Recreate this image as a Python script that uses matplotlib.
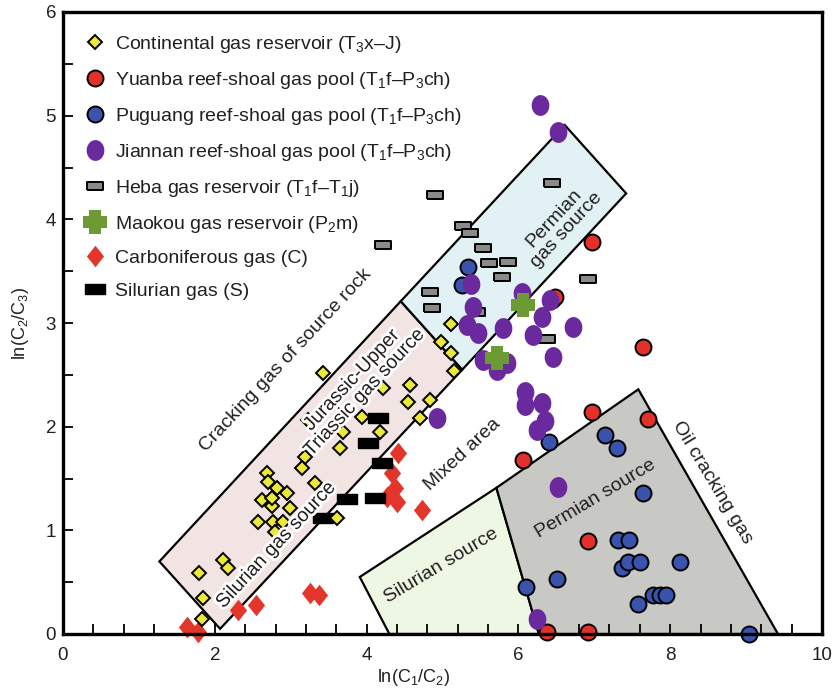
import numpy as np
import matplotlib
matplotlib.use("Agg")
import matplotlib.pyplot as plt
from matplotlib.patches import Polygon
from matplotlib.lines import Line2D
import matplotlib.patheffects as pe

plt.rcParams['font.family'] = ['Liberation Sans', 'DejaVu Sans']
plt.rcParams['mathtext.fontset'] = 'custom'
plt.rcParams['mathtext.rm'] = 'Liberation Sans'
plt.rcParams['mathtext.it'] = 'Liberation Sans:italic'
plt.rcParams['mathtext.bf'] = 'Liberation Sans:bold'

# ---------------- data ----------------
cont_x = [3.43, 4.57, 4.55, 4.84, 4.70, 3.94, 4.18, 3.65, 3.19, 3.15, 3.32, 2.69, 2.70, 2.82,
          2.95, 2.99, 2.62, 2.75, 2.57, 2.77, 2.90, 3.61, 5.11, 4.98, 5.11, 5.15, 2.11, 2.17,
          1.79, 1.85, 1.83, 2.79, 2.75, 4.22, 3.69, 3.23]
cont_y = [2.52, 2.40, 2.24, 2.26, 2.08, 2.09, 1.95, 1.79, 1.71, 1.60, 1.46, 1.55, 1.47, 1.41,
          1.36, 1.22, 1.29, 1.23, 1.08, 1.08, 1.08, 1.12, 2.99, 2.82, 2.71, 2.54, 0.71, 0.64,
          0.59, 0.35, 0.14, 0.98, 1.31, 2.37, 1.95, 2.06]

yuan_x = [6.97, 6.48, 7.64, 6.97, 7.71, 6.06, 6.92, 6.38, 6.92]
yuan_y = [3.78, 3.25, 2.77, 2.14, 2.07, 1.68, 0.90, 0.02, 0.02]

pug_x = [5.34, 5.26, 7.14, 7.30, 6.40, 7.64, 7.31, 7.46, 7.37, 7.44, 7.60, 8.13, 6.51, 6.10,
         7.58, 7.77, 7.87, 7.95, 9.04, 6.44]
pug_y = [3.54, 3.37, 1.92, 1.79, 1.85, 1.36, 0.91, 0.91, 0.64, 0.69, 0.69, 0.69, 0.53, 0.45,
         0.29, 0.38, 0.38, 0.38, 0.00, 3.22]

jian_x = [6.29, 6.52, 5.38, 5.40, 5.32, 5.47, 5.80, 6.05, 6.19, 6.31, 6.42, 6.72, 6.46, 5.53,
          5.85, 5.72, 4.93, 6.09, 6.09, 6.31, 6.35, 6.25, 6.52, 6.25]
jian_y = [5.10, 4.84, 3.38, 3.15, 2.98, 2.90, 2.95, 3.29, 2.88, 3.06, 3.22, 2.96, 2.67, 2.64,
          2.61, 2.55, 2.08, 2.33, 2.21, 2.23, 2.05, 1.97, 1.42, 0.14]

heba_x = [4.90, 4.22, 5.27, 5.36, 5.53, 5.61, 5.86, 5.78, 6.44, 6.92, 4.84, 4.86, 5.46, 6.38]
heba_y = [4.23, 3.75, 3.94, 3.87, 3.72, 3.58, 3.59, 3.44, 4.35, 3.42, 3.30, 3.14, 3.11, 2.85]

mao_x = [6.06, 5.72]
mao_y = [3.17, 2.66]

carb_x = [4.41, 4.34, 4.37, 4.27, 4.40, 4.73, 3.25, 3.37, 2.31, 2.54, 1.63, 1.78]
carb_y = [1.75, 1.55, 1.41, 1.32, 1.27, 1.20, 0.40, 0.38, 0.23, 0.28, 0.07, 0.02]

sil_x = [4.15, 4.02, 4.20, 3.74, 4.11, 3.43]
sil_y = [2.08, 1.84, 1.65, 1.30, 1.31, 1.12]

# region boundaries
pink_region = [(1.27, 0.70), (2.07, 0.05), (5.26, 2.55), (4.45, 3.21)]
blue_region = [(4.45, 3.21), (5.26, 2.55), (7.42, 4.25), (6.61, 4.91)]
green_region = [(3.91, 0.55), (5.71, 1.41), (6.27, 0.0), (4.30, 0.0)]
gray_region = [(5.71, 1.41), (7.58, 2.36), (9.42, 0.0), (6.27, 0.0)]

labels = [r"Continental gas reservoir (T$_3$x–J)",
          r"Yuanba reef-shoal gas pool (T$_1$f–P$_3$ch)",
          r"Puguang reef-shoal gas pool (T$_1$f–P$_3$ch)",
          r"Jiannan reef-shoal gas pool (T$_1$f–P$_3$ch)",
          r"Heba gas reservoir (T$_1$f–T$_1$j)",
          r"Maokou gas reservoir (P$_2$m)",
          "Carboniferous gas (C)",
          "Silurian gas (S)"]

# ---------------- marker shapes ----------------
t = np.linspace(0, 2 * np.pi, 40)
ellipse_m = list(zip(0.85 * np.cos(t), np.sin(t)))
rect_m = [(-1, -0.5), (1, -0.5), (1, 0.5), (-1, 0.5), (-1, -0.5)]
a, b = 0.27, 0.55
cross_m = [(-a, -b), (a, -b), (a, -a), (b, -a), (b, a), (a, a), (a, b), (-a, b),
           (-a, a), (-b, a), (-b, -a), (-a, -a), (-a, -b)]
diam_m = [(0, -1), (0.8, 0), (0, 1), (-0.8, 0), (0, -1)]
sil_m = [(-1, -0.5), (1, -0.5), (1, 0.5), (-1, 0.5), (-1, -0.5)]

TXT = '#231f20'
styles = [
    dict(marker='D', ms=7.3, mfc='#ece83a', mec='black', mew=1.4),
    dict(marker='o', ms=11.5, mfc='#e1312a', mec='black', mew=1.4),
    dict(marker='o', ms=11.5, mfc='#3a54ad', mec='black', mew=1.4),
    dict(marker=ellipse_m, ms=15, mfc='#6a2a9e', mec='none', mew=0),
    dict(marker=rect_m, ms=11.5, mfc='#8a8a8a', mec='black', mew=1.4),
    dict(marker=cross_m, ms=17, mfc='#6c9a35', mec='none', mew=0),
    dict(marker=diam_m, ms=15.5, mfc='#e2352b', mec='none', mew=0),
    dict(marker=sil_m, ms=14, mfc='black', mec='black', mew=1.0),
]

fig = plt.figure(figsize=(8.33, 6.89), dpi=100)
ax = fig.add_axes([63 / 833, 55 / 689, 759 / 833, 622 / 689])

for poly, fc in [(pink_region, '#f3e4e4'), (blue_region, '#e1f1f4'),
                 (green_region, '#eef7e4'), (gray_region, '#c8c8c5')]:
    ax.add_patch(Polygon(poly, closed=True, facecolor=fc, edgecolor='black', lw=1.6, zorder=1))

series = [(cont_x, cont_y), (yuan_x, yuan_y), (pug_x, pug_y), (jian_x, jian_y),
          (heba_x, heba_y), (mao_x, mao_y), (carb_x, carb_y), (sil_x, sil_y)]
order = [6, 7, 0, 4, 2, 1, 3, 5]
for i in order:
    xs, ys = series[i]
    ax.plot(xs, ys, ls='none', zorder=3 + order.index(i) * 0.1, clip_on=False, **styles[i])

halo = [pe.withStroke(linewidth=4, foreground='white')]
fs = 14
ax.text(2.93, 2.64, "Cracking gas of source rock", rotation=47, rotation_mode='anchor',
        ha='center', va='center', fontsize=fs, color=TXT, zorder=5)
ax.text(3.90, 2.39, "Jurassic-Upper\nTriassic gas source", rotation=47, rotation_mode='anchor',
        ha='center', va='center', fontsize=fs, color=TXT, zorder=5, path_effects=halo,
        linespacing=1.05, multialignment='center')
ax.text(2.82, 0.86, "Silurian gas source", rotation=47, rotation_mode='anchor',
        ha='center', va='center', fontsize=fs, color=TXT, zorder=5, path_effects=halo)
ax.text(6.55, 3.95, "Permian\ngas source", rotation=47, rotation_mode='anchor',
        ha='center', va='center', fontsize=fs, color=TXT, zorder=5, linespacing=1.05,
        multialignment='center')
ax.text(5.26, 1.73, "Mixed area", rotation=43, rotation_mode='anchor',
        ha='center', va='center', fontsize=fs, color=TXT, zorder=5)
ax.text(4.98, 0.66, "Silurian source", rotation=31, rotation_mode='anchor',
        ha='center', va='center', fontsize=fs, color=TXT, zorder=5)
ax.text(7.01, 1.30, "Permian source", rotation=31, rotation_mode='anchor',
        ha='center', va='center', fontsize=fs, color=TXT, zorder=5)
ax.text(8.55, 1.46, "Oil cracking gas", rotation=-59, rotation_mode='anchor',
        ha='center', va='center', fontsize=fs, color=TXT, zorder=5)

handles = [Line2D([], [], ls='none', **s) for s in styles]
leg = ax.legend(handles, labels, loc='upper left', bbox_to_anchor=(0.012, 0.987),
                frameon=False, fontsize=14, labelspacing=0.77, handlelength=1.0,
                handletextpad=0.5, borderpad=0.2)
for tx in leg.get_texts():
    tx.set_color(TXT)

ax.set_xlim(0, 10)
ax.set_ylim(0, 6)
ax.set_xticks([0, 2, 4, 6, 8, 10])
ax.set_xticks(np.arange(0, 10.01, 0.4), minor=True)
ax.set_yticks([0, 1, 2, 3, 4, 5, 6])
ax.set_yticks(np.arange(0, 6.01, 0.5), minor=True)
ax.tick_params(which='both', direction='in', length=7, width=1.3, labelsize=13.5,
               labelcolor=TXT, pad=5)
ax.tick_params(axis='x', which='both', pad=9)
for sp in ax.spines.values():
    sp.set_linewidth(2.4)
    sp.set_zorder(6)
ax.set_xlabel(r"ln(C$_1$/C$_2$)", fontsize=13, color=TXT)
ax.set_ylabel(r"ln(C$_2$/C$_3$)", fontsize=13, color=TXT)
ax.xaxis.set_label_coords(0.462, -0.053)
ax.yaxis.set_label_coords(-0.042, 0.5)

fig.savefig("out.png", dpi=100)
